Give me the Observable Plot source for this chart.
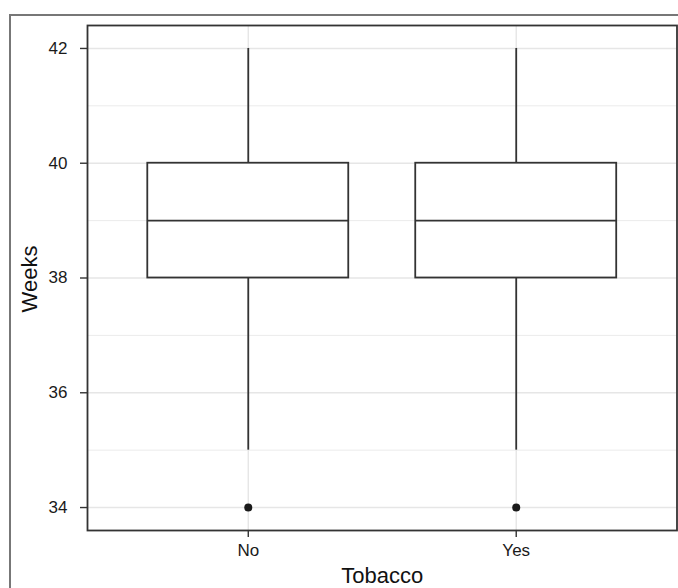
<!DOCTYPE html>
<html>
<head>
<meta charset="utf-8">
<script src="https://cdn.jsdelivr.net/npm/d3@7"></script>
<script src="https://cdn.jsdelivr.net/npm/@observablehq/plot@0.6"></script>
<style>
  html, body { margin: 0; padding: 0; background: #fff; }
  #wrap { position: relative; width: 678px; height: 588px; overflow: hidden; }
  #outer { position: absolute; left: 9px; top: 14px; width: 680px; height: 600px;
           border-top: 2px solid #777; border-left: 2px solid #777; box-sizing: border-box; }
  #chart { position: absolute; left: 0; top: 0; }
  svg { font-family: "Liberation Sans", Arial, sans-serif; }
</style>
</head>
<body>
<div id="wrap"><div id="outer"></div><div id="chart"></div></div>
<script>
const categories = ["No", "Yes"];
const lowerWhisker = [35, 35];
const q1 = [38, 38];
const median = [39, 39];
const q3 = [40, 40];
const upperWhisker = [42, 42];
const outliers = [{cat: "No", value: 34}, {cat: "Yes", value: 34}];
const yTicks = [34, 36, 38, 40, 42];
const yMinor = [35, 37, 39, 41];
const xTitle = "Tobacco";
const yTitle = "Weeks";

const halfWidth = 0.375;
const boxes = categories.map((c, i) => ({
  cat: c, pos: i + 1,
  lo: lowerWhisker[i], q1: q1[i], med: median[i], q3: q3[i], hi: upperWhisker[i]
}));
const outs = outliers.map(o => ({...o, pos: categories.indexOf(o.cat) + 1}));
const ink = "#333333";
const lw = 1.8;

const plot = Plot.plot({
  width: 678,
  height: 588,
  marginLeft: 87,
  marginRight: 1.5,
  marginTop: 25,
  marginBottom: 58,
  style: {fontFamily: "Liberation Sans, Arial, sans-serif", fontSize: "17px", background: "transparent"},
  x: {domain: [0.4, 2.6], axis: null},
  y: {domain: [33.6, 42.4], axis: null},
  marks: [
    Plot.gridY(yMinor, {stroke: "#ebebeb", strokeOpacity: 1, strokeWidth: 1}),
    Plot.gridY(yTicks, {stroke: "#e6e6e6", strokeOpacity: 1, strokeWidth: 1.4}),
    Plot.gridX(boxes.map(d => d.pos), {stroke: "#e6e6e6", strokeOpacity: 1, strokeWidth: 1.4}),
    Plot.ruleX(boxes, {x: "pos", y1: "lo", y2: "q1", stroke: ink, strokeWidth: lw}),
    Plot.ruleX(boxes, {x: "pos", y1: "q3", y2: "hi", stroke: ink, strokeWidth: lw}),
    Plot.rect(boxes, {x1: d => d.pos - halfWidth, x2: d => d.pos + halfWidth, y1: "q1", y2: "q3",
      fill: "white", stroke: ink, strokeWidth: lw}),
    Plot.ruleY(boxes, {y: "med", x1: d => d.pos - halfWidth, x2: d => d.pos + halfWidth, stroke: ink, strokeWidth: lw}),
    Plot.dot(outs, {x: "pos", y: "value", r: 4, fill: "#1a1a1a", stroke: "none"}),
    Plot.frame({stroke: ink, strokeWidth: lw}),
    Plot.axisY(yTicks, {anchor: "left", tickSize: 7, tickPadding: 13, fontSize: 17, color: "#1a1a1a",
      stroke: ink, strokeWidth: 1.4, tickFormat: d => String(d), label: null}),
    Plot.axisX(boxes.map(d => d.pos), {anchor: "bottom", tickSize: 7, tickPadding: 6, fontSize: 17,
      color: "#1a1a1a", stroke: ink, strokeWidth: 1.4, tickFormat: d => categories[d - 1], label: null}),
    Plot.text([yTitle], {frameAnchor: "left", dx: -58, dy: 1, rotate: -90, fontSize: 22,
      textAnchor: "middle", lineAnchor: "middle", fill: "#111"}),
    Plot.text([xTitle], {frameAnchor: "bottom", dy: 45, fontSize: 22,
      textAnchor: "middle", lineAnchor: "middle", fill: "#111"})
  ]
});
document.getElementById("chart").appendChild(plot);
</script>
</body>
</html>
